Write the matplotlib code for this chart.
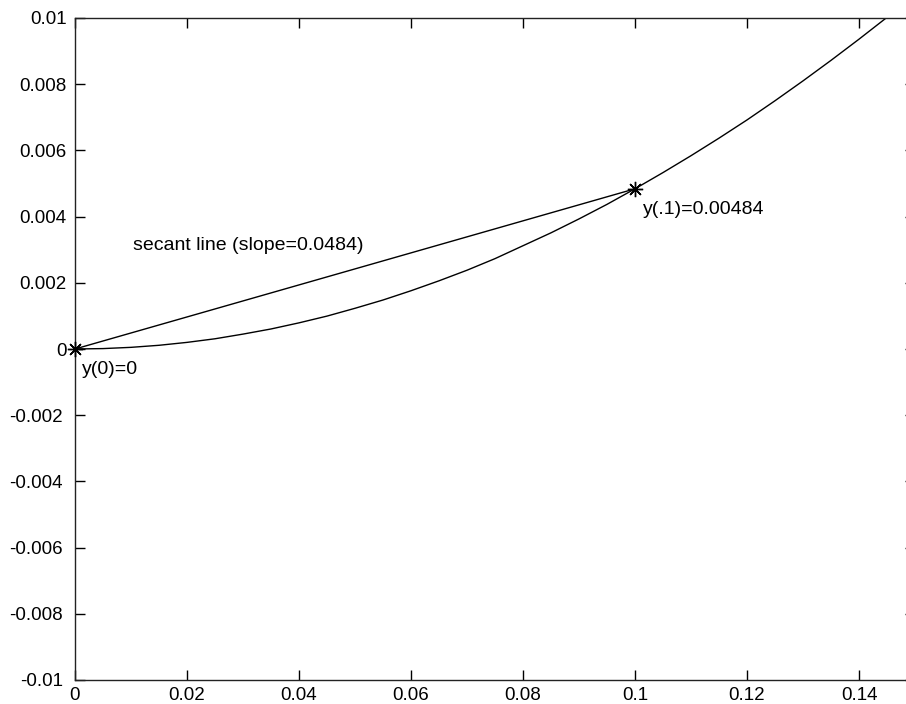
import matplotlib
matplotlib.use("Agg")
import matplotlib.pyplot as plt
import matplotlib.transforms as mtransforms

plt.rcParams['font.family'] = ['Liberation Sans', 'DejaVu Sans']

# curve values
curve_x = [0.0, 0.005, 0.01, 0.015, 0.02, 0.025, 0.03, 0.035, 0.04, 0.045, 0.05,
           0.055, 0.06, 0.065, 0.07, 0.075, 0.08, 0.085, 0.09, 0.095, 0.10,
           0.105, 0.11, 0.115, 0.12, 0.125, 0.13, 0.135, 0.14, 0.145, 0.15]
curve_y = [0.0, 0.0000125, 0.00005, 0.000112, 0.00020, 0.000309, 0.00045, 0.000605,
           0.00079, 0.000994, 0.00123, 0.00148, 0.00176, 0.00206, 0.00238, 0.00273,
           0.00312, 0.00351, 0.00393, 0.00437, 0.00484, 0.00533, 0.00584, 0.00637,
           0.00692, 0.00750, 0.00810, 0.00872, 0.00936, 0.01002, 0.01071]

secant_x = [0.0, 0.1]
secant_y = [0.0, 0.00484]

point_x = [0.0, 0.1]
point_y = [0.0, 0.00484]

labels = ["y(0)=0", "y(.1)=0.00484", "secant line (slope=0.0484)"]
label_pos = [(0.0012, -0.00062), (0.1014, 0.00422), (0.0104, 0.00314)]

xticks = [0, 0.02, 0.04, 0.06, 0.08, 0.1, 0.12, 0.14]
xtick_labels = ["0", "0.02", "0.04", "0.06", "0.08", "0.1", "0.12", "0.14"]
yticks = [-0.01, -0.008, -0.006, -0.004, -0.002, 0, 0.002, 0.004, 0.006, 0.008, 0.01]
ytick_labels = ["-0.01", "-0.008", "-0.006", "-0.004", "-0.002", "0", "0.002",
                "0.004", "0.006", "0.008", "0.01"]

fig = plt.figure(figsize=(9.06, 7.04), dpi=100)
ax = fig.add_axes([75/906, 24/704, 840/906, 662/704])

ax.plot(curve_x, curve_y, color='black', lw=1.0)
ax.plot(secant_x, secant_y, color='black', lw=1.0)
ax.plot(point_x, point_y, linestyle='none', marker=(8, 2, 0), color='black',
        markersize=11, markeredgewidth=1.0, clip_on=False, zorder=5)
for t, (x, y) in zip(labels, label_pos):
    ax.text(x, y, t, ha='left', va='center', fontsize=14)

ax.set_xlim(0, 0.15)
ax.set_ylim(-0.01, 0.01)
ax.set_xticks(xticks)
ax.set_xticklabels(xtick_labels)
ax.set_yticks(yticks)
ax.set_yticklabels(ytick_labels)
ax.tick_params(direction='in', top=True, right=True, labelsize=13.5, length=7, width=1)
ax.tick_params(axis='x', pad=5)
ax.tick_params(axis='y', pad=6)
for s in ax.spines.values():
    s.set_linewidth(1.0)
    s.set_color('#222222')

shift = mtransforms.ScaledTranslation(-0.04, 0, fig.dpi_scale_trans)
for lab in ax.get_yticklabels():
    if lab.get_text().startswith('-'):
        lab.set_transform(lab.get_transform() + shift)

fig.savefig("out.png", dpi=100)
